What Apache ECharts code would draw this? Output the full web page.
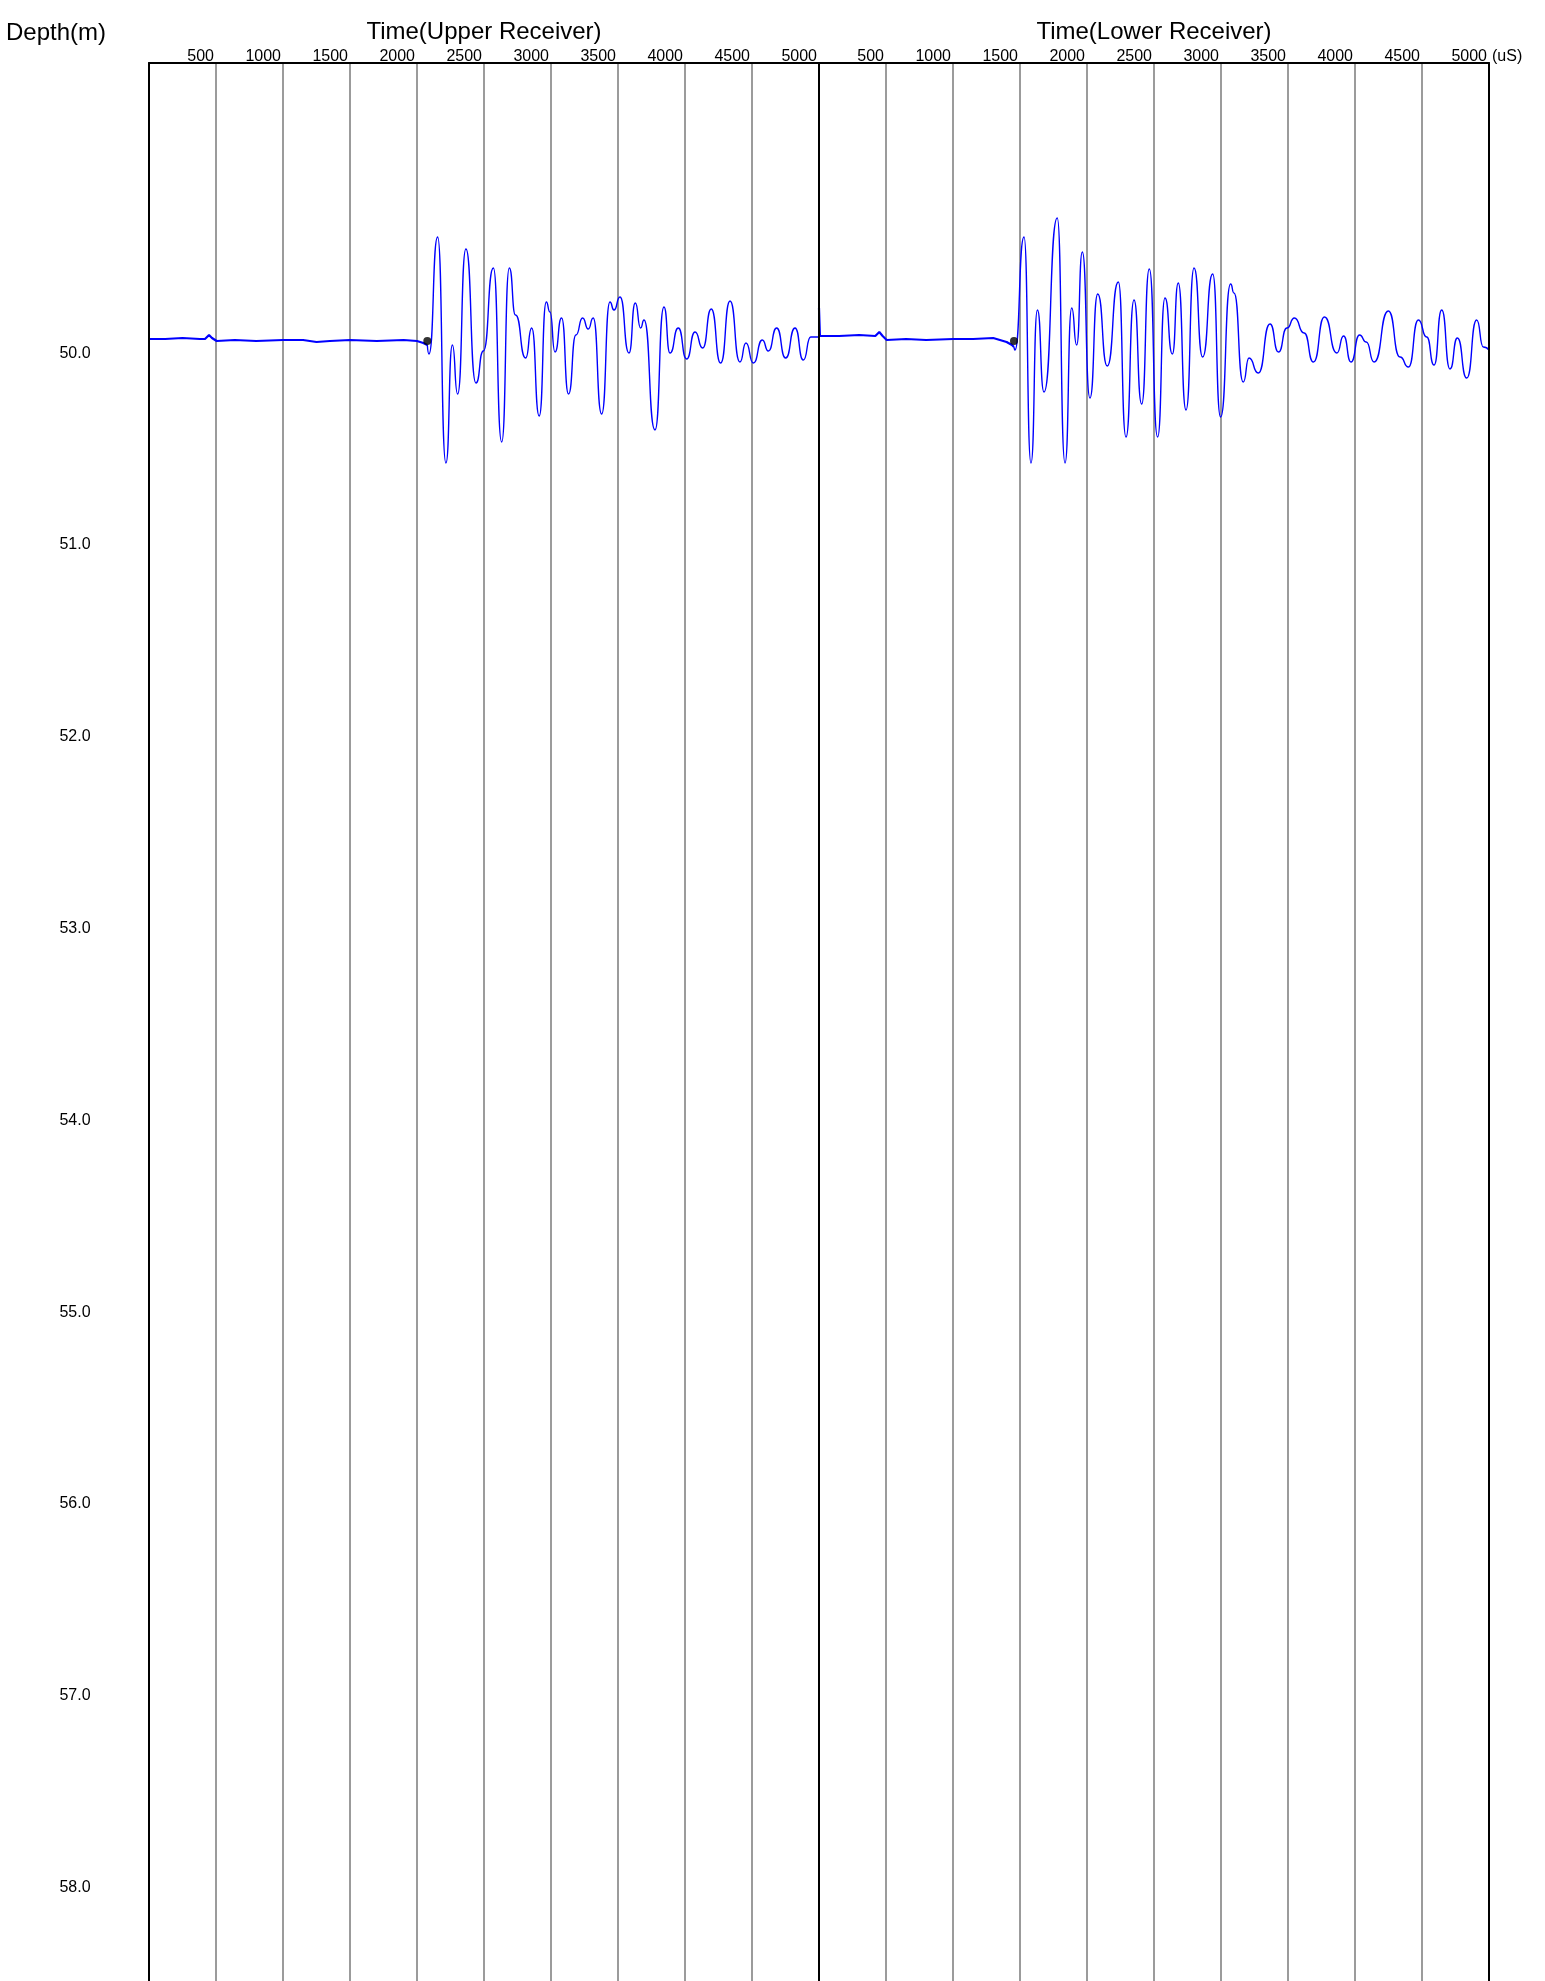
<!DOCTYPE html>
<html>
<head>
<meta charset="utf-8">
<title>Waveform log</title>
<script src="https://cdn.jsdelivr.net/npm/echarts@6/dist/echarts.min.js"></script>
<style>
  html, body { margin: 0; padding: 0; background: #fff; }
  #chart { width: 1545px; height: 1981px; }
</style>
</head>
<body>
<div id="chart"></div>
<script>
// Time axis (µs) ticks for each receiver panel
const timeTicks = [0, 500, 1000, 1500, 2000, 2500, 3000, 3500, 4000, 4500, 5000];
// Depth axis range (m) and labelled depths
const depthRange = [48.5, 58.5];
const depthLabels = [50, 51, 52, 53, 54, 55, 56, 57, 58];

// Recorded depth of the displayed trace pair
const traceDepth = 50.0;

// Upper receiver: [time µs, amplitude] before the first arrival (noise floor)
const upperNoise = [
  [0, 0], [120, 0], [250, 1], [380, 0], [418, 0], [448, 4], [470, 1], [505, -2],
  [640, -1], [800, -2], [1000, -1], [1150, -1], [1250, -3], [1350, -2], [1500, -1],
  [1700, -2], [1900, -1], [2000, -2], [2047, -4], [2077, -6]
];
// Upper receiver: [time µs, amplitude] after the first arrival
const upperSignal = [
  [2089, -15], [2154, 102], [2216, -124], [2264, -6], [2303, -55], [2365, 90],
  [2440, -44], [2495, -12], [2570, 71], [2632, -103], [2689, 71], [2735, 24],
  [2811, -19], [2856, 11], [2912, -77], [2965, 37], [2992, 27], [3030, -13],
  [3079, 21], [3131, -55], [3186, 4], [3236, 21], [3278, 10], [3315, 21],
  [3378, -75], [3440, 37], [3470, 29], [3515, 42], [3582, -14], [3629, 36],
  [3669, 11], [3694, 19], [3776, -91], [3843, 32], [3888, -14], [3950, 11],
  [4012, -20], [4075, 7], [4132, -9], [4196, 30], [4266, -24], [4336, 38],
  [4410, -23], [4455, -4], [4510, -24], [4577, -1], [4622, -12], [4684, 11],
  [4751, -19], [4821, 11], [4883, -21], [4938, 2], [5000, 2]
];
// Upper receiver first-arrival pick [time µs, amplitude]
const upperPick = [2077, -2];

// Lower receiver: [time µs, amplitude] before the first arrival (noise floor)
const lowerNoise = [
  [0, 31], [7, 3], [150, 3], [300, 4], [420, 3], [450, 7], [475, 3], [505, -1],
  [650, 0], [800, -1], [1000, 0], [1150, 0], [1300, 1], [1400, -3], [1440, -6],
  [1455, -8]
];
// Lower receiver: [time µs, amplitude] after the first arrival
const lowerSignal = [
  [1462, -11], [1530, 102], [1582, -124], [1630, 29], [1679, -53], [1778, 121],
  [1836, -124], [1886, 31], [1923, -6], [1965, 87], [2022, -59], [2080, 45],
  [2151, -27], [2234, 57], [2291, -98], [2351, 39], [2408, -65], [2465, 70],
  [2527, -98], [2582, 41], [2637, -15], [2681, 56], [2739, -71], [2799, 71],
  [2863, -18], [2938, 65], [2997, -78], [3072, 55], [3097, 46], [3166, -43],
  [3209, -19], [3278, -34], [3366, 15], [3429, -13], [3492, 11], [3548, 21],
  [3620, 6], [3690, -23], [3772, 22], [3865, -14], [3915, 3], [3970, -23],
  [4034, 4], [4084, -3], [4142, -23], [4249, 28], [4336, -18], [4399, -28],
  [4473, 19], [4535, 2], [4590, -26], [4647, 29], [4709, -30], [4764, 1],
  [4834, -39], [4908, 19], [4958, -8], [5000, -11]
];
// Lower receiver first-arrival pick [time µs, amplitude]
const lowerPick = [1455, -2];

// Amplitude scale of the trace band
const ampRange = [-150, 150];

const FONT = 'Liberation Sans, Arial, Helvetica, sans-serif';
const BLUE = '#0000ff';

// Frame geometry
const plotLeft = 149, panelWidth = 670, plotTop = 63, plotHeight = 1920;
const pxPerMetre = plotHeight / (depthRange[1] - depthRange[0]);
// Trace baseline sits slightly above its depth label
const baselineY = plotTop + (traceDepth - depthRange[0]) * pxPerMetre - 12;
const bandHalf = 150;

const chart = echarts.init(document.getElementById('chart'), null, { renderer: 'canvas' });

function timeAxis(gridIndex, name) {
  return {
    type: 'value', gridIndex, position: 'top',
    min: timeTicks[0], max: timeTicks[timeTicks.length - 1],
    interval: timeTicks[1] - timeTicks[0],
    name, nameLocation: 'middle', nameGap: 13,
    nameTextStyle: { fontSize: 24, color: '#000', fontFamily: FONT },
    axisLine: { show: true, lineStyle: { color: '#000', width: 2 } },
    axisTick: { show: false },
    axisLabel: {
      show: true, align: 'right', margin: -2, padding: [0, 2, 0, 0],
      fontSize: 16, color: '#000', fontFamily: FONT,
      showMinLabel: true, showMaxLabel: true,
      formatter: v => (v === 0 ? '' : String(v))
    },
    splitLine: { show: true, showMinLine: false, showMaxLine: false,
                 lineStyle: { color: '#7a7a7a', width: 1.5 } }
  };
}

function hiddenAxis(gridIndex, range) {
  return {
    type: 'value', gridIndex, min: range[0], max: range[1],
    show: false, splitLine: { show: false }
  };
}

function borderAxis(gridIndex, position) {
  return {
    type: 'value', gridIndex, position, inverse: true,
    min: depthRange[0], max: depthRange[1], interval: 0.5, z: 5,
    axisLine: { show: true, onZero: false, lineStyle: { color: '#000', width: 2 } },
    axisTick: { show: false }, axisLabel: { show: false }, splitLine: { show: false }
  };
}

const option = {
  animation: false,
  backgroundColor: '#fff',
  title: [
    { text: 'Depth(m)', left: 6, top: 21, padding: 0,
      textStyle: { fontSize: 24, fontWeight: 'normal', color: '#000', fontFamily: FONT } },
    { text: '(uS)', left: 1492, top: 49, padding: 0,
      textStyle: { fontSize: 16, fontWeight: 'normal', color: '#000', fontFamily: FONT } }
  ],
  grid: [
    { left: plotLeft, top: plotTop, width: panelWidth, height: plotHeight },
    { left: plotLeft + panelWidth, top: plotTop, width: panelWidth, height: plotHeight },
    { left: plotLeft, top: baselineY - bandHalf, width: panelWidth, height: bandHalf * 2 },
    { left: plotLeft + panelWidth, top: baselineY - bandHalf, width: panelWidth, height: bandHalf * 2 }
  ],
  xAxis: [
    timeAxis(0, 'Time(Upper Receiver)'),
    timeAxis(1, 'Time(Lower Receiver)'),
    hiddenAxis(2, [timeTicks[0], timeTicks[timeTicks.length - 1]]),
    hiddenAxis(3, [timeTicks[0], timeTicks[timeTicks.length - 1]])
  ],
  yAxis: [
    {
      type: 'value', gridIndex: 0, position: 'left', inverse: true,
      min: depthRange[0], max: depthRange[1], interval: 0.5, z: 5,
      axisLine: { show: true, onZero: false, lineStyle: { color: '#000', width: 2 } },
      axisTick: { show: false },
      axisLabel: {
        show: true, align: 'center', verticalAlign: 'top', lineHeight: 5, margin: 74,
        fontSize: 16, color: '#000', fontFamily: FONT,
        formatter: v => (depthLabels.indexOf(v) >= 0 ? v.toFixed(1) : '')
      },
      splitLine: { show: false }
    },
    borderAxis(1, 'left'),
    borderAxis(1, 'right'),
    hiddenAxis(2, ampRange),
    hiddenAxis(3, ampRange)
  ],
  series: [
    { type: 'line', xAxisIndex: 2, yAxisIndex: 3, data: upperNoise, showSymbol: false,
      lineStyle: { color: BLUE, width: 2.2 }, z: 3 },
    { type: 'line', xAxisIndex: 2, yAxisIndex: 3,
      data: [upperNoise[upperNoise.length - 1]].concat(upperSignal),
      showSymbol: false, smooth: 0.6, smoothMonotone: 'x',
      lineStyle: { color: BLUE, width: 1.4 }, z: 3 },
    { type: 'scatter', xAxisIndex: 2, yAxisIndex: 3, data: [upperPick],
      symbolSize: 8, itemStyle: { color: '#000' }, z: 4 },
    { type: 'line', xAxisIndex: 3, yAxisIndex: 4, data: lowerNoise, showSymbol: false,
      lineStyle: { color: BLUE, width: 2.2 }, z: 3 },
    { type: 'line', xAxisIndex: 3, yAxisIndex: 4,
      data: [lowerNoise[lowerNoise.length - 1]].concat(lowerSignal),
      showSymbol: false, smooth: 0.6, smoothMonotone: 'x',
      lineStyle: { color: BLUE, width: 1.4 }, z: 3 },
    { type: 'scatter', xAxisIndex: 3, yAxisIndex: 4, data: [lowerPick],
      symbolSize: 8, itemStyle: { color: '#000' }, z: 4 }
  ]
};

chart.setOption(option);
</script>
</body>
</html>
